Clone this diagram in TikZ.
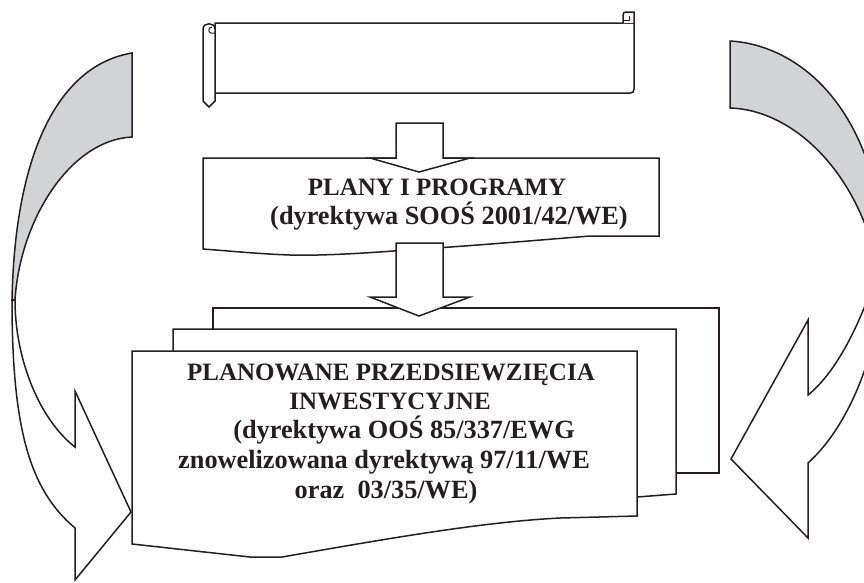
\documentclass[tikz,border=0pt]{standalone}
\usepackage{fontspec}
\setmainfont{Liberation Serif}
\definecolor{ribbongray}{RGB}{210,211,213}
\definecolor{ink}{RGB}{35,31,32}
\begin{document}
\begin{tikzpicture}[x=1pt,y=-1pt,line width=1.5pt,line join=miter,
  shp/.style={draw=ink,fill=white},
  ribbon/.style={draw=ink,fill=ribbongray},
  lbl/.style={font=\fontsize{25}{30}\selectfont\bfseries,anchor=base,inner sep=0pt,text=ink},
  lblw/.style={lbl,font=\fontsize{26.3}{30}\selectfont\bfseries}]
\useasboundingbox (0,0) rectangle (864,582);
\clip (0,0) rectangle (864,582);

% left twisted ribbon arrow
\path[ribbon] (132,53) .. controls (60,65) and (15,150) .. (12,300) -- (15,300)
  .. controls (20,220) and (70,140) .. (132,137) -- cycle;
\path[shp] (12,300) .. controls (12,430) and (30,490) .. (75,528) -- (75,580) -- (131,512)
  -- (75,391) -- (75,447) .. controls (40,420) and (15,360) .. (15,300) -- cycle;

% right twisted ribbon arrow
\path[ribbon] (730,41) .. controls (800,45) and (880,110) .. (885,265) -- (878,270)
  .. controls (860,175) and (795,110) .. (730,108) -- cycle;
\path[shp] (878,270) .. controls (868,300) and (845,365) .. (808,395) -- (808,320) -- (731,459)
  -- (808,538) -- (808,463) .. controls (850,425) and (880,350) .. (885,265) -- cycle;

% scroll
\path[shp] (215,23) -- (634,23) -- (634,89) .. controls (634,92) and (633,93) .. (630,93) -- (215,93) -- cycle;
\path[shp] (203,101) -- (203,29) .. controls (203,22) and (215,22) .. (215,29) -- (215,101) -- (209,107) -- cycle;
\draw[ink,line width=1pt] (215,33) -- (211,33) .. controls (208,33) and (208,27) .. (212,27);
\path[shp] (623,23) -- (623,15) .. controls (623,13) and (624,12) .. (626,12) -- (634,12) -- (634,23);
\draw[ink,line width=1pt] (623,20) -- (629,20) -- (629,16);

% plans box
\path[shp] (203,158) -- (659,158) -- (659,236) -- (590,236) .. controls (540,240) and (470,246) .. (420,249)
  .. controls (380,252) and (330,256) .. (290,255) .. controls (260,254) and (230,251) .. (203,249) -- cycle;
\path[shp] (396,123) -- (443,123) -- (443,158) -- (470,158) -- (419,172) -- (370,158) -- (396,158) -- cycle;

% stacked boxes
\path[shp] (213,308) rectangle (719,473);
\path[shp] (173,329) -- (676,329) -- (676,494) -- (637,497) -- (173,500) -- cycle;
\path[shp] (132,351) -- (637,351) -- (637,516) -- (560,518) .. controls (480,522) and (380,540) .. (282,557)
  -- (250,557) -- (132,544) -- cycle;
\path[shp] (396,243) -- (443,243) -- (443,297) -- (470,297) -- (419,316) -- (370,297) -- (396,297) -- cycle;

% texts
\node[lbl] (plany1) at (437,195) {PLANY I PROGRAMY};
\node[lblw] (plany2) at (449,224) {(dyrektywa SOOŚ 2001/42/WE)};
\node[lbl] (inw1) at (391,380) {PLANOWANE PRZEDSIEWZIĘCIA};
\node[lbl] (inw2) at (390,409) {INWESTYCYJNE};
\node[lblw] (inw3) at (404,438) {(dyrektywa OOŚ 85/337/EWG};
\node[lblw] (inw4) at (384,468) {znowelizowana dyrektywą 97/11/WE};
\node[lblw] (inw5) at (386,498) {oraz\ \ 03/35/WE)};
\end{tikzpicture}
\end{document}
